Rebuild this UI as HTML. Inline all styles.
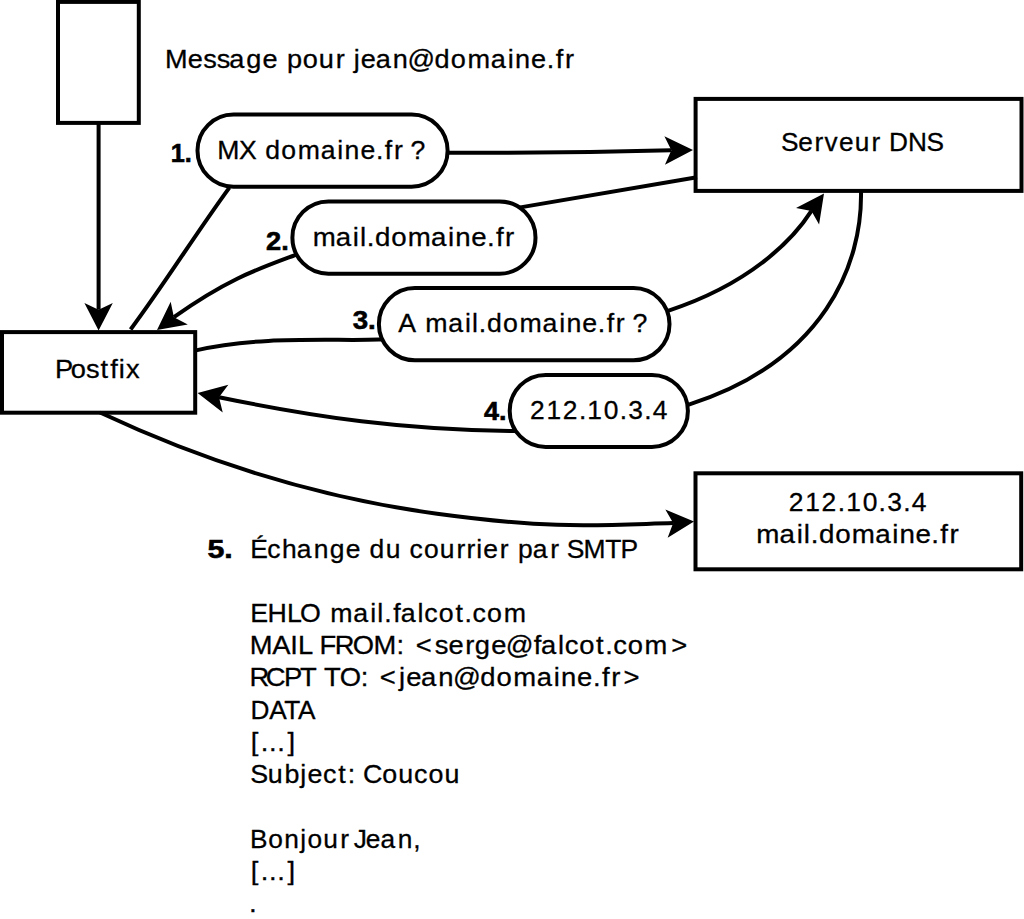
<!DOCTYPE html>
<html><head><meta charset="utf-8"><title>Postfix DNS</title>
<style>html,body{margin:0;padding:0;background:#fff;overflow:hidden}svg{display:block}
text{font-family:"Liberation Sans",sans-serif;fill:#000;font-kerning:none;font-variant-ligatures:none}</style></head>
<body><svg width="1024" height="919" viewBox="0 0 1024 919">
<g fill="#fff" stroke="#000" stroke-width="4.0">
<rect x="58.00" y="1.90" width="80.80" height="121.00"/>
<rect x="2.00" y="332.10" width="193.20" height="80.60"/>
<rect x="695.60" y="98.90" width="325.90" height="92.00"/>
<rect x="695.50" y="473.30" width="325.70" height="96.00"/>
</g>
<g fill="none" stroke="#000" stroke-width="4.0">
<path d="M98.6,122.9 L98.60,309.70"/>
<path d="M440,152.7 L447.6,152.7 C 535.4,153.3 605.8,152.2 671.36,150.30"/>
<path d="M229.4,187.6 C 192.5,238.3 167.0,280.4 130.6,329.5"/>
<path d="M697,177.3 L513,208.6"/>
<path d="M302,252.5 L294.5,255.3 C 256.9,269.3 227.1,279.4 173.90,317.14"/>
<path d="M196,350.4 C 257.9,335.6 331.2,341.1 378.9,339.6 L386,339.4"/>
<path d="M661,313 L668,310.8 C 749.3,284.2 792.3,240.7 811.45,210.90"/>
<path d="M861,191 C 862.5,264.2 824.3,361.0 689.5,404.3 L682,406.7"/>
<path d="M518,431.1 L509.7,431 C 403.0,429.6 317.8,417.7 218.98,397.22"/>
<path d="M100,412.5 C 209.7,464.0 319.5,497.8 437.1,513.7 C 553.6,529.5 596.6,525.3 673.18,523.10"/>
</g>
<g fill="#fff" stroke="#000" stroke-width="4.0">
<rect x="197.50" y="114.60" width="250.10" height="72.10" rx="36" ry="36"/>
<rect x="292.40" y="201.40" width="243.10" height="72.30" rx="36" ry="36"/>
<rect x="378.90" y="288.00" width="290.60" height="72.30" rx="36" ry="36"/>
<rect x="509.70" y="374.90" width="178.20" height="72.10" rx="36" ry="36"/>
</g>
<g fill="#000" stroke="none">
<polygon points="98.60,330.60 84.40,303.00 98.60,309.70 112.80,303.00"/>
<polygon points="693.00,149.90 664.93,164.63 671.36,150.30 664.39,136.23"/>
<polygon points="157.00,329.90 170.69,301.77 173.90,317.14 187.81,324.43"/>
<polygon points="824.00,193.40 819.09,224.62 811.45,210.90 796.01,208.08"/>
<polygon points="197.60,392.90 228.36,384.63 218.98,397.22 222.74,412.47"/>
<polygon points="694.00,521.40 667.66,537.80 673.18,523.10 665.34,509.50"/>
</g>
<g>
<text x="164.93 187.32 202.53 215.68 228.12 244.67 260.64 265.64 284.55 300.14 315.80 332.49 337.49 350.01 357.08 371.58 388.32 402.84 429.37 445.26 461.66 484.35 501.00 508.10 523.87 539.28 548.07 557.13" y="68.00" font-size="26.60" transform="translate(166.60,0) scale(1.0199,1) translate(-166.60,0)" stroke="#000" stroke-width="0.3">Message pour jean@domaine.fr</text>
<text x="217.28 239.11 244.11 265.31 281.31 297.83 320.65 337.37 344.55 360.42 375.91 384.76 393.88 398.88 410.44" y="158.90" font-size="26.60" stroke="#000" stroke-width="0.3">MX domaine.fr ?</text>
<text x="312.69 334.94 351.33 358.17 364.77 372.69 388.22 404.17 426.42 442.81 449.66 465.06 480.22 488.80 497.64" y="246.20" font-size="26.60" transform="translate(313.70,0) scale(1.0407,1) translate(-313.70,0)" stroke="#000" stroke-width="0.3">mail.domaine.fr</text>
<text x="398.28 403.28 425.18 447.93 464.61 471.63 478.42 486.64 502.58 519.03 541.78 558.46 565.60 581.41 596.86 605.67 614.76 619.76 631.25" y="331.90" font-size="26.60" transform="translate(398.30,0) scale(1.0049,1) translate(-398.30,0)" stroke="#000" stroke-width="0.3">A mail.domaine.fr ?</text>
<text x="530.08 546.74 562.97 579.33 587.83 604.41 620.43 629.10 645.09 653.71" y="419.30" font-size="26.60" transform="translate(530.90,0) scale(0.9920,1) translate(-530.90,0)" stroke="#000" stroke-width="0.3">212.10.3.4</text>
<text x="781.01 798.41 814.98 825.11 839.88 855.78 872.70 877.70 890.35 909.75 928.34" y="151.00" font-size="26.60" transform="translate(781.50,0) scale(0.9868,1) translate(-781.50,0)" stroke="#000" stroke-width="0.3">Serveur DNS</text>
<text x="55.06 70.37 85.39 99.46 109.11 117.38 124.44" y="378.00" font-size="26.60" transform="translate(56.90,0) scale(1.0239,1) translate(-56.90,0)" stroke="#000" stroke-width="0.3">Postfix</text>
<text x="788.78 805.43 821.67 838.03 846.53 863.11 879.13 887.80 903.79 912.41" y="511.00" font-size="26.60" transform="translate(789.80,0) scale(0.9942,1) translate(-789.80,0)" stroke="#000" stroke-width="0.3">212.10.3.4</text>
<text x="756.39 778.65 795.04 801.88 808.48 816.40 831.93 847.87 870.13 886.51 893.36 908.77 923.92 932.51 941.34" y="543.00" font-size="26.60" transform="translate(757.60,0) scale(1.0444,1) translate(-757.60,0)" stroke="#000" stroke-width="0.3">mail.domaine.fr</text>
<text x="250.23 267.36 282.10 297.09 314.08 330.11 346.34 351.34 370.29 386.64 391.64 410.45 424.89 440.78 457.70 467.78 477.59 484.63 501.19 506.19 519.43 534.29 551.84 556.84 568.58 585.42 607.25 622.48" y="558.00" font-size="26.60" transform="translate(251.60,0) scale(0.9944,1) translate(-251.60,0)" stroke="#000" stroke-width="0.3">Échange du courrier par SMTP</text>
<text x="250.23 267.32 286.86 299.71 304.71 329.78 352.79 369.63 376.74 383.63 392.56 399.95 416.77 423.39 437.85 454.36 463.52 471.40 485.87 502.59" y="622.00" font-size="26.60" transform="translate(251.60,0) scale(1.0051,1) translate(-251.60,0)" stroke="#000" stroke-width="0.3">EHLO mail.falcot.com</text>
<text x="249.92 271.60 289.11 296.66 301.66 317.63 332.60 350.14 370.18 392.68 397.68 411.40 429.82 443.26 459.58 468.72 484.66 498.91 526.01 533.19 549.80 556.23 570.42 586.70 595.69 603.38 617.57 633.93 659.99" y="654.30" font-size="26.60" transform="translate(251.60,0) scale(1.0278,1) translate(-251.60,0)" stroke="#000" stroke-width="0.3">MAIL FROM: &lt;serge@falcot.com&gt;</text>
<text x="249.64 265.32 282.92 298.49 303.49 321.78 337.09 357.39 362.39 376.01 394.64 401.63 416.03 432.67 447.05 473.45 489.24 505.50 528.07 544.64 551.67 567.33 582.67 591.41 600.40 612.24" y="686.50" font-size="26.60" transform="translate(251.60,0) scale(1.0310,1) translate(-251.60,0)" stroke="#000" stroke-width="0.3">RCPT TO: &lt;jean@domaine.fr&gt;</text>
<text x="250.44 269.39 284.83 298.74" y="718.70" font-size="26.60" transform="translate(251.60,0) scale(0.9861,1) translate(-251.60,0)" stroke="#000" stroke-width="0.3">DATA</text>
<text x="250.67 260.53 268.52 276.51 286.40" y="751.50" font-size="26.60" transform="translate(251.60,0) scale(1.0303,1) translate(-251.60,0)" stroke="#000" stroke-width="0.3">[...]</text>
<text x="250.27 267.73 284.12 299.83 307.03 322.27 337.47 346.84 351.84 362.08 381.14 396.96 412.55 426.92 442.74" y="783.00" font-size="26.60" transform="translate(251.60,0) scale(1.0091,1) translate(-251.60,0)" stroke="#000" stroke-width="0.3">Subject: Coucou</text>
<text x="250.06 268.45 284.70 300.71 308.07 324.21 341.34 346.34 354.88 367.19 382.14 399.37 415.12" y="847.70" font-size="26.60" transform="translate(251.60,0) scale(0.9883,1) translate(-251.60,0)" stroke="#000" stroke-width="0.3">Bonjour Jean,</text>
<text x="250.67 260.53 268.52 276.51 286.40" y="879.70" font-size="26.60" transform="translate(251.60,0) scale(1.0303,1) translate(-251.60,0)" stroke="#000" stroke-width="0.3">[...]</text>
<text x="249.17" y="911.70" font-size="26.60" transform="translate(251.60,0) scale(1.0495,1) translate(-251.60,0)" stroke="#000" stroke-width="0.3">.</text>
<text x="170.70" y="161.80" font-size="26.00" font-weight="bold" textLength="21.08" lengthAdjust="spacingAndGlyphs" stroke="#000" stroke-width="0.6">1.</text>
<text x="266.10" y="249.80" font-size="26.00" font-weight="bold" textLength="22.68" lengthAdjust="spacingAndGlyphs" stroke="#000" stroke-width="0.6">2.</text>
<text x="352.70" y="328.50" font-size="26.00" font-weight="bold" textLength="23.08" lengthAdjust="spacingAndGlyphs" stroke="#000" stroke-width="0.6">3.</text>
<text x="484.10" y="419.80" font-size="26.00" font-weight="bold" textLength="22.48" lengthAdjust="spacingAndGlyphs" stroke="#000" stroke-width="0.6">4.</text>
<text x="207.47" y="558.00" font-size="26.00" font-weight="bold" textLength="25.26" lengthAdjust="spacingAndGlyphs" stroke="#000" stroke-width="0.6">5.</text>
</g>
</svg></body></html>
